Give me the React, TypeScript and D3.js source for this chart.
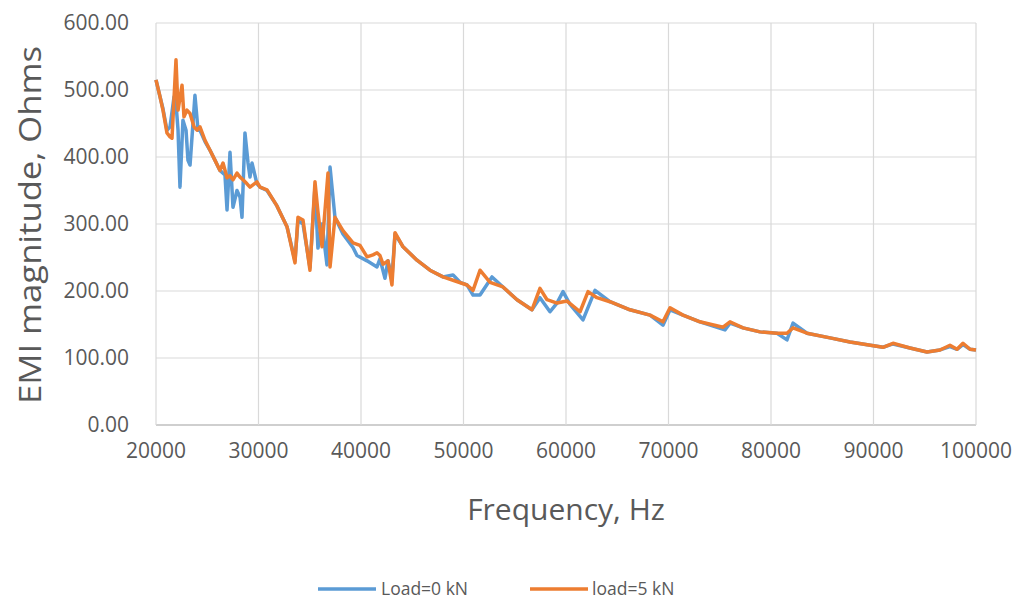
import React from "react";
import * as d3 from "d3";

const xTicks = [20000, 30000, 40000, 50000, 60000, 70000, 80000, 90000, 100000];
const yTicks = [0, 100, 200, 300, 400, 500, 600];

const freq5 = [20000, 20390, 20680, 21070, 21370, 21560, 21950, 22150, 22540, 22730, 23020, 23320, 23710, 24000, 24290, 24780, 25270, 25760, 26240, 26540, 26930, 27220, 27510, 27900, 28200, 28490, 28880, 29170, 29850, 30150, 30830, 31800, 32780, 33560, 33850, 34340, 35020, 35510, 35800, 36200, 36780, 36980, 37460, 38240, 39220, 39900, 40590, 41170, 41560, 41850, 42150, 42630, 43020, 43320, 44100, 45460, 46730, 48000, 48980, 50340, 50930, 51610, 52590, 53850, 55220, 56680, 57460, 58150, 59120, 60100, 61370, 62150, 63020, 64290, 66240, 68200, 69460, 70150, 71410, 73070, 75320, 76000, 77270, 78930, 80590, 81560, 82150, 83510, 85760, 87710, 90930, 91900, 93560, 95220, 96490, 97460, 98150, 98730, 99420, 100000];
const load5 = [515, 490, 470, 436, 430, 428, 545, 470, 507, 460, 470, 465, 445, 440, 445, 425, 410, 395, 380, 391, 369, 372, 366, 376, 370, 366, 360, 355, 363, 355, 351, 327, 296, 242, 310, 306, 231, 363, 318, 266, 376, 236, 310, 290, 272, 268, 251, 254, 257, 253, 240, 245, 209, 287, 266, 246, 231, 221, 216, 209, 201, 231, 213, 206, 187, 172, 204, 187, 182, 185, 169, 199, 190, 184, 172, 164, 154, 175, 164, 154, 146, 154, 145, 139, 137, 137, 145, 137, 130, 124, 116, 122, 115, 109, 112, 119, 113, 122, 113, 112];

const freq0 = [20000, 20390, 20680, 21070, 21370, 21760, 21950, 22150, 22340, 22630, 22930, 23120, 23320, 23800, 24100, 24290, 24780, 25270, 25760, 26240, 26730, 26930, 27220, 27510, 27900, 28200, 28390, 28680, 28980, 29170, 29370, 29850, 30150, 30830, 31800, 32780, 33560, 33850, 34340, 35020, 35510, 35800, 36200, 36680, 36980, 37460, 38240, 39220, 39610, 40590, 41560, 41850, 42340, 42630, 43020, 43320, 44100, 45460, 46730, 48000, 48980, 49660, 50340, 50930, 51610, 52780, 53850, 55220, 56680, 57460, 58440, 59120, 59710, 60390, 61660, 62830, 64290, 66240, 68200, 69460, 70150, 71410, 73070, 75510, 76000, 77270, 78930, 80590, 81560, 82150, 83510, 85760, 87710, 90930, 91900, 93560, 95220, 96490, 97460, 98150, 98730, 99420, 100000];
const load0 = [515, 490, 472, 440, 445, 490, 480, 440, 355, 455, 440, 395, 388, 492, 440, 440, 423, 410, 395, 380, 373, 321, 407, 325, 350, 340, 310, 436, 391, 370, 391, 360, 355, 350, 327, 296, 245, 305, 300, 235, 355, 264, 300, 239, 385, 310, 285, 265, 253, 245, 236, 248, 219, 245, 220, 285, 266, 246, 231, 221, 224, 213, 209, 194, 194, 221, 206, 187, 172, 190, 169, 182, 199, 180, 157, 201, 184, 172, 164, 149, 172, 164, 154, 142, 152, 145, 139, 137, 127, 152, 137, 130, 124, 116, 121, 115, 109, 112, 117, 113, 120, 113, 112];

const seriesNames = ["Load=0 kN", "load=5 kN"];
const colors = ["#5B9BD5", "#ED7D31"];

export default function App() {
  const W = 1026, H = 600;
  const x = d3.scaleLinear().domain([20000, 100000]).range([156, 976]);
  const y = d3.scaleLinear().domain([0, 600]).range([425, 23]);
  const line = d3.line<[number, number]>().x(d => x(d[0])).y(d => y(d[1]));
  const d0 = line(freq0.map((f, i) => [f, load0[i]] as [number, number])) || "";
  const d5 = line(freq5.map((f, i) => [f, load5[i]] as [number, number])) || "";
  const font = "'Open Sans', 'Segoe UI', sans-serif";
  return (
    <svg width={W} height={H} style={{ position: "absolute", left: 0, top: 0, background: "#fff" }} fontFamily={font}>
      <rect width={W} height={H} fill="#fff" />
      {yTicks.map(t => (
        <line key={"gy" + t} x1={x(20000)} x2={x(100000)} y1={y(t)} y2={y(t)} stroke={t === 0 ? "#bfbfbf" : "#d9d9d9"} strokeWidth={t === 0 ? 1.5 : 1.2} />
      ))}
      {xTicks.map(t => (
        <line key={"gx" + t} x1={x(t)} x2={x(t)} y1={y(0)} y2={y(600)} stroke="#d9d9d9" strokeWidth={1.2} />
      ))}
      <path d={d0} fill="none" stroke={colors[0]} strokeWidth={3.5} strokeLinejoin="round" />
      <path d={d5} fill="none" stroke={colors[1]} strokeWidth={3.5} strokeLinejoin="round" />
      {yTicks.map(t => (
        <text key={"ty" + t} x={129} y={y(t)} dy="0.35em" textAnchor="end" fontSize={21} fill="#595959">{t.toFixed(2)}</text>
      ))}
      {xTicks.map(t => (
        <text key={"tx" + t} x={x(t)} y={451} dy="0.35em" textAnchor="middle" fontSize={21} fill="#595959">{t}</text>
      ))}
      <text x={566} y={509} dy="0.35em" textAnchor="middle" fontSize={30} fill="#595959">Frequency, Hz</text>
      <text transform={`translate(30,225) rotate(-90)`} textAnchor="middle" dy="0.35em" fontSize={31} textLength={358} lengthAdjust="spacingAndGlyphs" fill="#595959">EMI magnitude, Ohms</text>
      <line x1={318} x2={376} y1={589} y2={589} stroke={colors[0]} strokeWidth={3.5} />
      <text x={381} y={589} dy="0.35em" fontSize={17.5} fill="#595959">{seriesNames[0]}</text>
      <line x1={530} x2={588} y1={589} y2={589} stroke={colors[1]} strokeWidth={3.5} />
      <text x={592} y={589} dy="0.35em" fontSize={17.5} fill="#595959">{seriesNames[1]}</text>
    </svg>
  );
}
